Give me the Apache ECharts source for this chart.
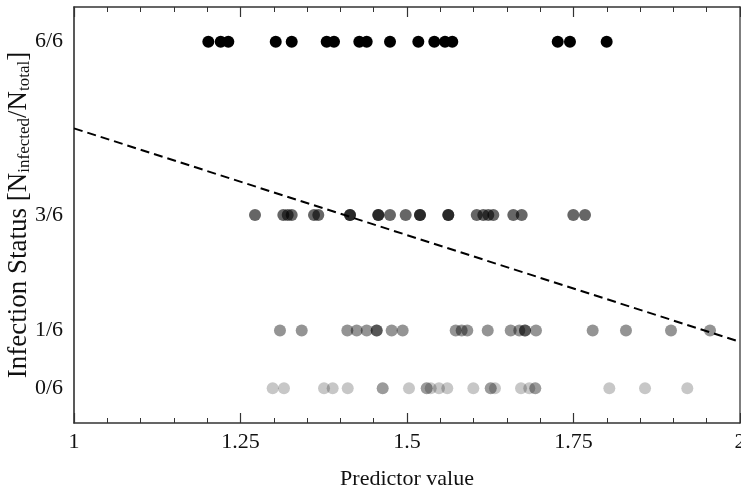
<!DOCTYPE html>
<html>
<head>
<meta charset="utf-8">
<script src="https://cdn.jsdelivr.net/npm/echarts@6/dist/echarts.min.js"></script>
<style>html,body{margin:0;padding:0;background:#fff;}#c{width:741px;height:493px;}</style>
</head>
<body>
<div id="c"></div>
<script>
// Data
var xTickLabels = ['1', '1.25', '1.5', '1.75', '2'];
var yTickValues = [0, 1/6, 0.5, 1];
var yTickLabels = ['0/6', '1/6', '3/6', '6/6'];

var row6of6 = [1.2017, 1.2203, 1.2317, 1.3029, 1.3269, 1.3794, 1.3904, 1.4284, 1.4395, 1.4745, 1.5170, 1.5410, 1.5571, 1.5680, 1.7263, 1.7447, 1.7998];
var row3of6 = [1.2718, 1.3143, 1.3209, 1.3269, 1.3604, 1.3668, 1.4144, 1.4144, 1.4569, 1.4569, 1.4745, 1.4980, 1.5195, 1.5195, 1.5620, 1.5620, 1.6047, 1.6146, 1.6221, 1.6296, 1.6596, 1.6722, 1.7497, 1.7673];
var row1of6 = [1.3093, 1.3419, 1.4104, 1.4245, 1.4395, 1.4545, 1.4545, 1.4770, 1.4935, 1.5731, 1.5821, 1.5905, 1.6212, 1.6557, 1.6686, 1.6772, 1.6772, 1.6937, 1.7788, 1.8288, 1.8964, 1.9550];
var row0of6 = [1.2983, 1.3153, 1.3754, 1.3884, 1.4110, 1.4635, 1.4635, 1.5030, 1.5296, 1.5296, 1.5356, 1.5480, 1.5605, 1.5996, 1.6257, 1.6257, 1.6321, 1.6712, 1.6836, 1.6926, 1.6926, 1.8038, 1.8574, 1.9209];

var trendX = [1, 2];
var trendY = [0.750, 0.134];

function pts(xs, y) { return xs.map(function (x) { return [x, y]; }); }

var FONT = 'Liberation Serif';
var chart = echarts.init(document.getElementById('c'), null, {renderer: 'canvas'});

function scatter(xs, y, color) {
  return {
    type: 'scatter', xAxisIndex: 0, yAxisIndex: 0,
    data: pts(xs, y), symbolSize: 12,
    itemStyle: {color: color, opacity: 1}, silent: true, z: 3
  };
}

var option = {
  animation: false,
  backgroundColor: '#fff',
  grid: {left: 74, right: 1, top: 7, bottom: 70, containLabel: false, outerBoundsMode: 'none'},
  xAxis: [{
    type: 'value', position: 'bottom', min: 1, max: 2, interval: 0.25,
    axisLine: {show: true, onZero: false, lineStyle: {color: '#333', width: 1.5}},
    axisTick: {show: true, inside: true, length: 10, lineStyle: {color: '#333', width: 1.2}},
    minorTick: {show: true, splitNumber: 5, length: 5, lineStyle: {color: '#333', width: 1}},
    splitLine: {show: false},
    axisLabel: {
      margin: 8, fontFamily: FONT, fontSize: 22, color: '#111',
      formatter: function (v) { var i = Math.round((v - 1) / 0.25); return xTickLabels[i]; }
    },
    name: 'Predictor value', nameLocation: 'middle', nameGap: 45, nameMoveOverlap: false,
    nameTextStyle: {fontFamily: FONT, fontSize: 22, color: '#111'}
  }, {
    type: 'value', position: 'top', min: 1, max: 2, interval: 0.25,
    axisLine: {show: true, onZero: false, lineStyle: {color: '#333', width: 1.5}},
    axisTick: {show: true, inside: true, length: 10, lineStyle: {color: '#333', width: 1.2}},
    minorTick: {show: true, splitNumber: 5, length: 5, lineStyle: {color: '#333', width: 1}},
    splitLine: {show: false}, axisLabel: {show: false}
  }],
  yAxis: [{
    type: 'value', position: 'left', min: -0.1, max: 1.1,
    axisLine: {show: true, onZero: false, lineStyle: {color: '#222', width: 1.5}},
    axisTick: {show: false},
    splitLine: {show: false},
    axisLabel: {
      customValues: yTickValues, margin: 11,
      fontFamily: FONT, fontSize: 22, color: '#111',
      formatter: function (v) {
        var best = 0, d = 1e9;
        for (var i = 0; i < yTickValues.length; i++) {
          var dd = Math.abs(yTickValues[i] - v);
          if (dd < d) { d = dd; best = i; }
        }
        return yTickLabels[best];
      }
    },
    name: 'Infection Status [N{s|infected}/N{s|total}]',
    nameLocation: 'middle', nameGap: 41, nameRotate: 90, nameMoveOverlap: false,
    nameTextStyle: {
      fontFamily: FONT, fontSize: 27, color: '#111',
      rich: {s: {fontFamily: FONT, fontSize: 17, color: '#111', padding: [11, 0, 0, 0]}}
    }
  }, {
    type: 'value', position: 'right', min: -0.1, max: 1.1,
    axisLine: {show: true, onZero: false, lineStyle: {color: '#555', width: 1.5}},
    axisTick: {show: false}, splitLine: {show: false}, axisLabel: {show: false}
  }],
  series: [
    scatter(row0of6, yTickValues[0], 'rgba(0,0,0,0.22)'),
    scatter(row1of6, yTickValues[1], 'rgba(0,0,0,0.42)'),
    scatter(row3of6, yTickValues[2], 'rgba(0,0,0,0.6)'),
    scatter(row6of6, yTickValues[3], 'rgba(0,0,0,1)'),
    {
      type: 'line', xAxisIndex: 0, yAxisIndex: 0,
      data: trendX.map(function (x, i) { return [x, trendY[i]]; }),
      showSymbol: false, symbol: 'none', silent: true, z: 4,
      lineStyle: {color: '#000', width: 2, type: [9, 5]}
    }
  ]
};
chart.setOption(option);
</script>
</body>
</html>
